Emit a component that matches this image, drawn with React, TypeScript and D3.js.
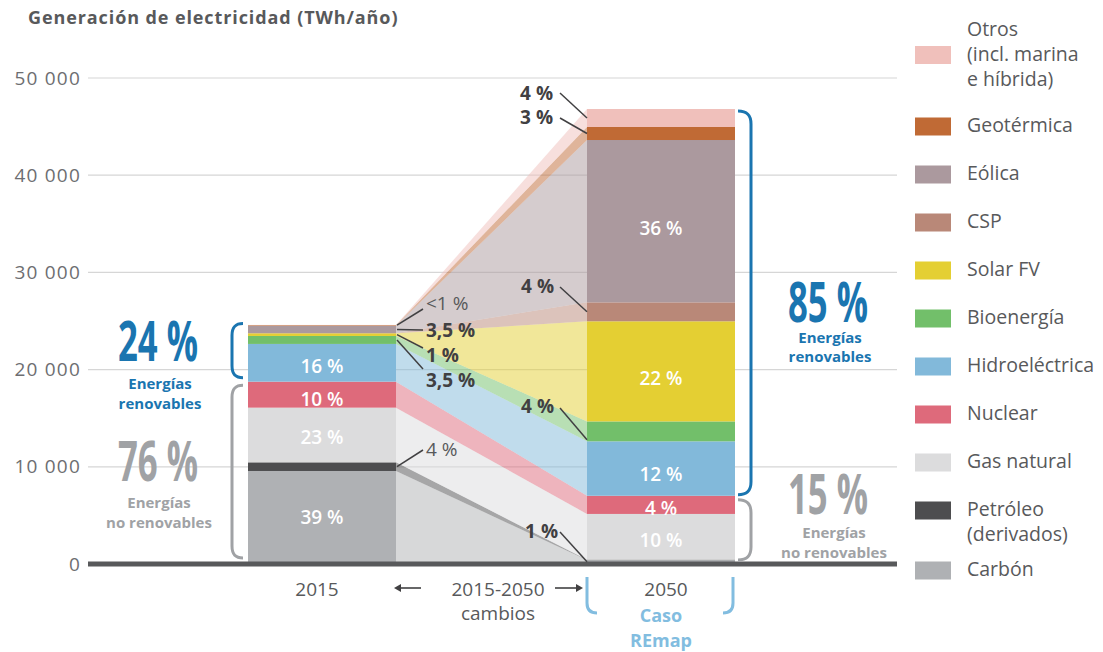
import React from "react";
import * as d3 from "d3";

// ---------- DATA ----------
const categories = [
  "Carbón",
  "Petróleo",
  "Gas natural",
  "Nuclear",
  "Hidroeléctrica",
  "Bioenergía",
  "Solar FV",
  "CSP",
  "Eólica",
  "Geotérmica",
  "Otros",
];
const legendLabels = [
  ["Carbón"],
  ["Petróleo", "(derivados)"],
  ["Gas natural"],
  ["Nuclear"],
  ["Hidroeléctrica"],
  ["Bioenergía"],
  ["Solar FV"],
  ["CSP"],
  ["Eólica"],
  ["Geotérmica"],
  ["Otros", "(incl. marina", "e híbrida)"],
];
const years = ["2015", "2050"];
const values2015 = [9570, 890, 5625, 2675, 3880, 820, 275, 20, 760, 60, 20];
const values2050 = [400, 50, 4700, 1870, 5600, 2050, 10300, 1950, 16700, 1340, 1850];
const renewable = [false, false, false, false, true, true, true, true, true, true, true];
const colors = [
  "#afb1b4",
  "#4d4d4f",
  "#dcdcdd",
  "#de6a7b",
  "#82b9da",
  "#72bf6a",
  "#e4cf33",
  "#b98878",
  "#ab999e",
  "#c06a35",
  "#f0c0bb",
];
const inner2015 = ["39 %", "", "23 %", "10 %", "16 %", "", "", "", "", "", ""];
const inner2050 = ["", "", "10 %", "4 %", "12 %", "", "22 %", "", "36 %", "", ""];
const callouts2015 = [
  { cat: 10, label: "<1 %", bold: false },
  { cat: 8, label: "3,5 %", bold: true },
  { cat: 6, label: "1 %", bold: true },
  { cat: 5, label: "3,5 %", bold: true },
  { cat: 1, label: "4 %", bold: false },
];
const callouts2050 = [
  { cat: 10, label: "4 %" },
  { cat: 9, label: "3 %" },
  { cat: 7, label: "4 %" },
  { cat: 5, label: "4 %" },
  { cat: 0, label: "1 %" },
];
const yTicks = [0, 10000, 20000, 30000, 40000, 50000];
const shareLeftRenew = "24 %";
const shareLeftNonRenew = "76 %";
const shareRightRenew = "85 %";
const shareRightNonRenew = "15 %";

// ---------- LAYOUT ----------
const W = 1103;
const H = 652;
const FONT = "'Open Sans', 'DejaVu Sans', sans-serif";
const BAR_W = 148;
const BLUE = "#1a75b0";
const GREY = "#a0a2a5";
const TEXT = "#58595b";
const DARK = "#414042";

const c2015Text = [
  { tx: 426, ty: 310, lx: 423, ly: 309, frac: 0.5 },
  { tx: 426, ty: 337, lx: 423, ly: 330, frac: 0.5 },
  { tx: 426, ty: 361.5, lx: 423, ly: 348, frac: 0.5 },
  { tx: 426, ty: 386.5, lx: 423, ly: 369, frac: 0.5 },
  { tx: 426, ty: 456, lx: 423, ly: 450, frac: 0.5 },
];
const c2050Text = [
  { tx: 553, ty: 100, lx: 560, ly: 93, frac: 0.5 },
  { tx: 553, ty: 123.5, lx: 560, ly: 118, frac: 0.5 },
  { tx: 554, ty: 293, lx: 560, ly: 287, frac: 0.5 },
  { tx: 554, ty: 413, lx: 560, ly: 408, frac: 0.08 },
  { tx: 558, ty: 538, lx: 560, ly: 532, frac: 0.6 },
];
const innerDy2015 = [7, 0, 9, 11, 10, 0, 0, 0, 0, 0, 0];
const innerDy2050 = [0, 0, 10, 10, 12, 0, 14, 0, 14, 0, 0];

export default function App() {
  const y = d3.scaleLinear().domain([0, 50000]).range([564, 78]);
  const xc = d3.scalePoint().domain(years).range([322, 661]);
  const fmt = d3.formatLocale({ decimal: ",", thousands: " ", grouping: [3], currency: ["", ""] }).format(",");

  const rows = [values2015, values2050].map((vals, i) => {
    const r: any = { year: years[i] };
    categories.forEach((c, j) => (r[c] = vals[j]));
    return r;
  });
  const series = d3.stack<any>().keys(categories)(rows);

  const left2015 = (xc("2015") as number) - BAR_W / 2;
  const right2015 = left2015 + BAR_W;
  const left2050 = (xc("2050") as number) - BAR_W / 2;
  const right2050 = left2050 + BAR_W;

  const area = d3
    .area<any>()
    .x((d) => d.x)
    .y0((d) => d.y0)
    .y1((d) => d.y1);

  const total2015 = d3.sum(values2015);
  const total2050 = d3.sum(values2050);
  const nonRen2015 = d3.sum(values2015.filter((_, i) => !renewable[i]));
  const nonRen2050 = d3.sum(values2050.filter((_, i) => !renewable[i]));

  const segY = (yearIdx: number, cat: number, frac: number) => {
    const s = series[cat][yearIdx];
    return y(s[0] + (s[1] - s[0]) * frac);
  };

  const leftBracket = (x: number, t: number, b: number) =>
    `M${x + 11},${t} C${x + 3},${t} ${x},${t + 4} ${x},${t + 12} L${x},${b - 12} C${x},${b - 4} ${x + 3},${b} ${x + 11},${b}`;
  const rightBracket = (x: number, t: number, b: number) =>
    `M${x - 13},${t} C${x - 4},${t} ${x},${t + 4} ${x},${t + 13} L${x},${b - 13} C${x},${b - 4} ${x - 4},${b} ${x - 13},${b}`;

  // legend y centers
  const legendOrder = d3.range(categories.length).reverse();
  const legendCenters: number[] = [];
  let cy = 55;
  legendOrder.forEach((ci, k) => {
    if (k > 0) {
      const prev = legendLabels[legendOrder[k - 1]].length;
      cy += 48 + (prev === 3 ? 23.5 : prev === 2 ? 12 : 0);
    }
    legendCenters.push(cy);
  });

  const bigFont = 56;

  return (
    <svg
      width={W}
      height={H}
      viewBox={`0 0 ${W} ${H}`}
      style={{ position: "absolute", left: 0, top: 0, background: "#fff", fontFamily: FONT }}
    >
      {/* title */}
      <text x={28} y={24} fontSize={18} fontWeight={700} fill={TEXT} letterSpacing={0.9}>
        Generación de electricidad (TWh/año)
      </text>

      {/* gridlines and y ticks */}
      {yTicks.map((t) => (
        <g key={t}>
          {t > 0 && <line x1={88} x2={897} y1={y(t)} y2={y(t)} stroke="#d6d6d6" strokeWidth={1.2} />}
          <text x={81} y={y(t) + 6.5} textAnchor="end" fontSize={19} fill="#6d6e71" letterSpacing={1.2}>
            {fmt(t)}
          </text>
        </g>
      ))}

      {/* flows */}
      {series.map((s, i) => (
        <path
          key={"f" + i}
          d={
            area([
              { x: right2015, y0: y(s[0][0]), y1: y(s[0][1]) },
              { x: left2050, y0: y(s[1][0]), y1: y(s[1][1]) },
            ]) as string
          }
          fill={colors[i]}
          fillOpacity={0.5}
        />
      ))}

      {/* bars */}
      {series.map((s, i) =>
        s.map((d, j) => (
          <rect
            key={"b" + i + "-" + j}
            x={(xc(years[j]) as number) - BAR_W / 2}
            width={BAR_W}
            y={y(d[1])}
            height={Math.max(0, y(d[0]) - y(d[1]))}
            fill={colors[i]}
          />
        ))
      )}

      {/* inner labels */}
      {series.map((s, i) =>
        [inner2015[i], inner2050[i]].map((lab, j) =>
          lab ? (
            <text
              key={"il" + i + j}
              x={xc(years[j]) as number}
              y={(y(s[j][0]) + y(s[j][1])) / 2 + (j === 0 ? innerDy2015[i] : innerDy2050[i])}
              textAnchor="middle"
              fontSize={19}
              fontWeight={600}
              fill="#fff"
            >
              {lab}
            </text>
          ) : null
        )
      )}

      {/* baseline */}
      <line x1={88} x2={897} y1={y(0)} y2={y(0)} stroke="#58595b" strokeWidth={5} />

      {/* callouts 2015 */}
      {callouts2015.map((c, k) => {
        const p = c2015Text[k];
        return (
          <g key={"c15" + k}>
            <line x1={right2015 + 1} y1={segY(0, c.cat, p.frac)} x2={p.lx} y2={p.ly} stroke={DARK} strokeWidth={1.5} />
            <text x={p.tx} y={p.ty} fontSize={19} fontWeight={c.bold ? 700 : 400} fill={c.bold ? DARK : TEXT}>
              {c.label}
            </text>
          </g>
        );
      })}
      {/* callouts 2050 */}
      {callouts2050.map((c, k) => {
        const p = c2050Text[k];
        return (
          <g key={"c50" + k}>
            <line x1={p.lx} y1={p.ly} x2={left2050} y2={segY(1, c.cat, p.frac)} stroke={DARK} strokeWidth={1.5} />
            <text x={p.tx} y={p.ty} textAnchor="end" fontSize={19} fontWeight={700} fill={DARK}>
              {c.label}
            </text>
          </g>
        );
      })}

      {/* brackets */}
      <path d={leftBracket(left2015 - 16, y(total2015) - 1.5, y(nonRen2015) - 4)} fill="none" stroke={BLUE} strokeWidth={3} />
      <path d={leftBracket(left2015 - 16, y(nonRen2015) + 3.5, y(0) - 6)} fill="none" stroke={GREY} strokeWidth={3} />
      <path d={rightBracket(right2050 + 16, y(total2050) + 2, y(nonRen2050) - 1)} fill="none" stroke={BLUE} strokeWidth={3} />
      <path d={rightBracket(right2050 + 16, y(nonRen2050) + 4, y(0) - 4)} fill="none" stroke={GREY} strokeWidth={3} />

      {/* share annotations left */}
      <text x={158} y={361} textAnchor="middle" fontSize={bigFont} fontWeight={700} fill={BLUE} textLength={80} lengthAdjust="spacingAndGlyphs">
        {shareLeftRenew}
      </text>
      <text x={160} y={389} textAnchor="middle" fontSize={15} fontWeight={700} fill={BLUE}>
        Energías
      </text>
      <text x={160} y={409} textAnchor="middle" fontSize={15} fontWeight={700} fill={BLUE}>
        renovables
      </text>
      <text x={158} y={481} textAnchor="middle" fontSize={bigFont} fontWeight={700} fill={GREY} textLength={80} lengthAdjust="spacingAndGlyphs">
        {shareLeftNonRenew}
      </text>
      <text x={159} y={508} textAnchor="middle" fontSize={15} fontWeight={700} fill={GREY}>
        Energías
      </text>
      <text x={159} y={528} textAnchor="middle" fontSize={15} fontWeight={700} fill={GREY}>
        no renovables
      </text>

      {/* share annotations right */}
      <text x={828} y={322} textAnchor="middle" fontSize={bigFont} fontWeight={700} fill={BLUE} textLength={80} lengthAdjust="spacingAndGlyphs">
        {shareRightRenew}
      </text>
      <text x={830} y={343} textAnchor="middle" fontSize={15} fontWeight={700} fill={BLUE}>
        Energías
      </text>
      <text x={830} y={362} textAnchor="middle" fontSize={15} fontWeight={700} fill={BLUE}>
        renovables
      </text>
      <text x={828} y={514} textAnchor="middle" fontSize={bigFont} fontWeight={700} fill={GREY} textLength={80} lengthAdjust="spacingAndGlyphs">
        {shareRightNonRenew}
      </text>
      <text x={834} y={538} textAnchor="middle" fontSize={15} fontWeight={700} fill={GREY}>
        Energías
      </text>
      <text x={834} y={558} textAnchor="middle" fontSize={15} fontWeight={700} fill={GREY}>
        no renovables
      </text>

      {/* x labels */}
      <text x={317} y={596} textAnchor="middle" fontSize={19} fill={TEXT}>
        2015
      </text>
      <text x={498} y={596} textAnchor="middle" fontSize={19} fill={TEXT}>
        2015-2050
      </text>
      <text x={498} y={620} textAnchor="middle" fontSize={19} fill={TEXT}>
        cambios
      </text>
      <text x={666} y={596} textAnchor="middle" fontSize={19} fill={TEXT}>
        2050
      </text>
      <text x={661} y={622} textAnchor="middle" fontSize={18} fontWeight={700} fill="#82bde0">
        Caso
      </text>
      <text x={661} y={647} textAnchor="middle" fontSize={18} fontWeight={700} fill="#82bde0">
        REmap
      </text>
      {/* arrows */}
      <line x1={421} x2={400} y1={588} y2={588} stroke={DARK} strokeWidth={1.6} />
      <path d="M394,588 L401,584 L401,592 Z" fill={DARK} />
      <line x1={555} x2={577} y1={588} y2={588} stroke={DARK} strokeWidth={1.6} />
      <path d="M583,588 L576,584 L576,592 Z" fill={DARK} />
      {/* REmap bracket */}
      <path d={`M${left2050},577 L${left2050},603 Q${left2050},613 ${left2050 + 10},613`} fill="none" stroke="#82bde0" strokeWidth={3} />
      <path d={`M${right2050 - 2},577 L${right2050 - 2},603 Q${right2050 - 2},613 ${right2050 - 12},613`} fill="none" stroke="#82bde0" strokeWidth={3} />

      {/* legend */}
      {legendOrder.map((ci, k) => {
        const lines = legendLabels[ci];
        const c = legendCenters[k];
        const first = lines.length === 3 ? c - 25 + 5.5 : c + 5.5;
        return (
          <g key={"lg" + ci}>
            <rect x={915} y={c - 9} width={36} height={18} fill={colors[ci]} />
            {lines.map((l, li) => (
              <text key={li} x={967} y={first + li * 25} fontSize={19.5} fill={TEXT}>
                {l}
              </text>
            ))}
          </g>
        );
      })}
    </svg>
  );
}
